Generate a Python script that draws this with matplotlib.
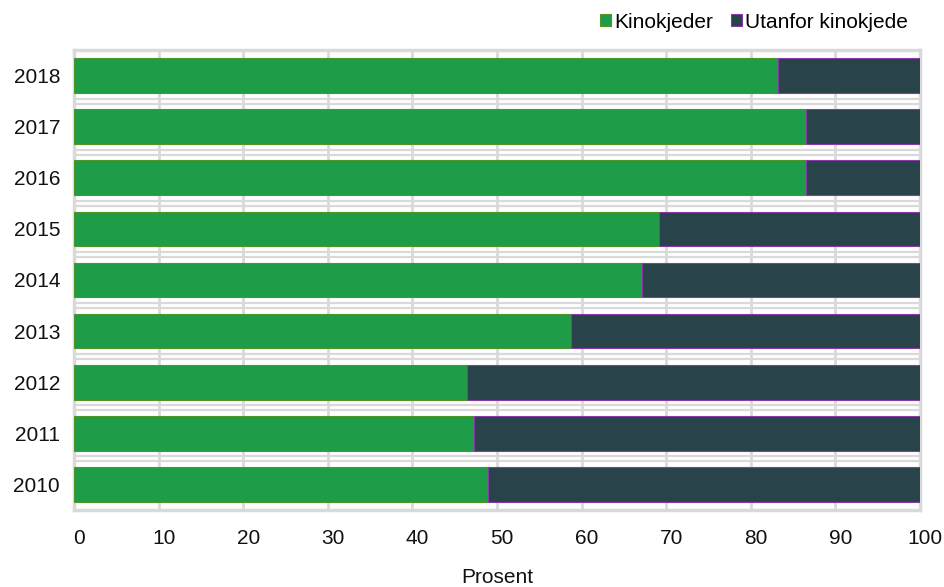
import matplotlib
matplotlib.use('Agg')
import matplotlib.pyplot as plt
import matplotlib.transforms as mtransforms
import numpy as np

plt.rcParams['font.family'] = ['Liberation Sans', 'DejaVu Sans']

years = ['2010', '2011', '2012', '2013', '2014', '2015', '2016', '2017', '2018']
kinokjeder = [48.9, 47.3, 46.5, 58.7, 67.1, 69.1, 86.5, 86.5, 83.2]
utanfor = [100 - v for v in kinokjeder]
labels = ['Kinokjeder', 'Utanfor kinokjede']

green = '#1e9c48'
dark = '#284349'
grid_c = '#d9d9d9'

fig = plt.figure(figsize=(9.44, 5.87), dpi=100)
ax = fig.add_axes([0.0784, 0.1312, 0.8962, 0.7836])

y = np.arange(len(years))
ax.barh(y, kinokjeder, height=0.68, color=green, edgecolor='#4f9626', linewidth=0.8,
        label=labels[0], zorder=3)
ax.barh(y, utanfor, left=kinokjeder, height=0.68, color=dark, edgecolor='#8a3aa8',
        linewidth=0.8, label=labels[1], zorder=3)

# gitterlinjer
for xv in range(0, 101, 10):
    ax.axvline(xv, color=grid_c, lw=2, zorder=1)
for b in y[:-1] + 0.5:
    ax.axhline(b - 0.05, color=grid_c, lw=1.6, zorder=1)
    ax.axhline(b + 0.05, color=grid_c, lw=1.6, zorder=1)

ax.set_xlim(0, 100)
ax.set_ylim(-0.5, len(years) - 0.5)
ax.set_yticks(y)
ax.set_yticklabels(years)
ax.set_xticks(range(0, 101, 10))
ax.tick_params(axis='both', length=0, labelsize=15, colors='#111111')
ax.tick_params(axis='x', pad=14)
ax.tick_params(axis='y', pad=10)
# x-etikettane sit litt til høgre for gitterlinja
off = mtransforms.ScaledTranslation(5 / 100, 0, fig.dpi_scale_trans)
for lab in ax.get_xticklabels():
    lab.set_transform(lab.get_transform() + off)
for s in ax.spines.values():
    s.set_color(grid_c)
    s.set_linewidth(2.5)
    s.set_zorder(2)

ax.set_xlabel('Prosent', fontsize=15, labelpad=14, color='#111111')

fig.legend(loc='center right', bbox_to_anchor=(0.9705, 0.962), ncol=2, frameon=False,
           fontsize=15, handlelength=0.5, handleheight=0.5, handletextpad=0.15,
           columnspacing=0.9, borderaxespad=0)

fig.savefig('out.png', dpi=100)
